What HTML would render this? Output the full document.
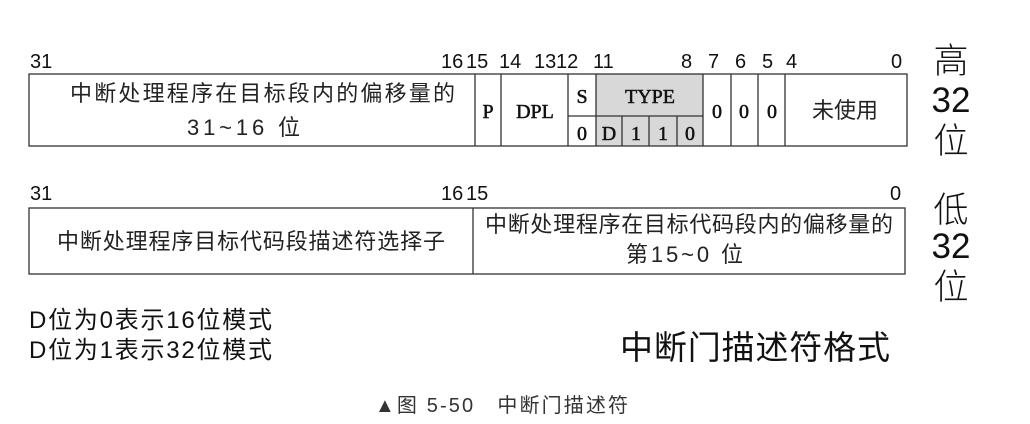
<!DOCTYPE html>
<html><head><meta charset="utf-8"><style>
html,body{margin:0;padding:0;background:#fff;width:1030px;height:424px;overflow:hidden}
svg{display:block}
.n{font-family:"Liberation Sans",sans-serif;font-size:20px;fill:#111}
.c{font-family:"Liberation Sans","Noto Sans CJK SC",sans-serif;font-size:22px;fill:#222}
.s{font-family:"Liberation Serif",serif;font-size:20px;fill:#111;stroke:#111;stroke-width:0.5}
.b{font-family:"Liberation Sans","Noto Sans CJK SC",sans-serif;font-size:35px;fill:#111;font-weight:300}
</style></head><body>
<svg width="1030" height="424" viewBox="0 0 1030 424">
<g stroke="#333" stroke-width="1.3" fill="none">
<rect x="596" y="74" width="107" height="72" fill="#d8d8d8" stroke="none"/>
<rect x="29" y="74" width="878" height="72"/>
<line x1="475" y1="74" x2="475" y2="146"/>
<line x1="501" y1="74" x2="501" y2="146"/>
<line x1="568" y1="74" x2="568" y2="146"/>
<line x1="596" y1="74" x2="596" y2="146"/>
<line x1="703" y1="74" x2="703" y2="146"/>
<line x1="731" y1="74" x2="731" y2="146"/>
<line x1="758" y1="74" x2="758" y2="146"/>
<line x1="785" y1="74" x2="785" y2="146"/>
<line x1="568" y1="116" x2="703" y2="116"/>
<line x1="622" y1="116" x2="622" y2="146"/>
<line x1="649" y1="116" x2="649" y2="146"/>
<line x1="677" y1="116" x2="677" y2="146"/>
<rect x="29" y="208" width="876" height="66"/>
<line x1="473" y1="208" x2="473" y2="274"/>
</g>
<g class="n">
<text x="30" y="68">31</text>
<text x="441" y="68">16</text><text x="466" y="68">15</text>
<text x="499" y="68">14</text><text x="534" y="68">13</text><text x="556" y="68">12</text>
<text x="593" y="68">11</text><text x="681" y="68">8</text><text x="708" y="68">7</text>
<text x="735" y="68">6</text><text x="762" y="68">5</text><text x="786" y="68">4</text>
<text x="891" y="68">0</text>
<text x="30" y="200">31</text>
<text x="441" y="200">16</text><text x="466" y="200">15</text>
<text x="890" y="200">0</text>
</g>
<g class="c">
<text x="70" y="101" textLength="385">中断处理程序在目标段内的偏移量的</text>
<text x="187" y="135" textLength="113">31~16 位</text>
<text x="57" y="249" textLength="388">中断处理程序目标代码段描述符选择子</text>
<text x="485" y="232" textLength="408">中断处理程序在目标代码段内的偏移量的</text>
<text x="626" y="262" textLength="117">第15~0 位</text>
<text x="812" y="118" textLength="66">未使用</text>
</g>
<g class="s" text-anchor="middle">
<text x="488" y="118">P</text>
<text x="535" y="118">DPL</text>
<text x="582" y="103">S</text>
<text x="650" y="103">TYPE</text>
<text x="582" y="140">0</text>
<text x="609" y="140">D</text>
<text x="636" y="140">1</text>
<text x="663" y="140">1</text>
<text x="690" y="140">0</text>
<text x="717" y="118">0</text>
<text x="744" y="118">0</text>
<text x="772" y="118">0</text>
</g>
<g class="b" text-anchor="middle">
<text x="951" y="73">高</text>
<text x="951" y="112">32</text>
<text x="951" y="153">位</text>
<text x="951" y="222">低</text>
<text x="951" y="258">32</text>
<text x="951" y="299">位</text>
</g>
<g font-family="Liberation Sans,'Noto Sans CJK SC',sans-serif" font-size="24" fill="#111">
<text x="29" y="328" textLength="243">D位为0表示16位模式</text>
<text x="29" y="358" textLength="243">D位为1表示32位模式</text>
</g>
<text x="620" y="359" font-family="Liberation Sans,'Noto Sans CJK SC',sans-serif" font-size="33" fill="#111" textLength="270">中断门描述符格式</text>
<text x="375" y="412" font-family="Liberation Sans,'Noto Sans CJK SC',sans-serif" font-size="20" fill="#333" textLength="253">▲图 5-50　中断门描述符</text>
</svg>
</body></html>
